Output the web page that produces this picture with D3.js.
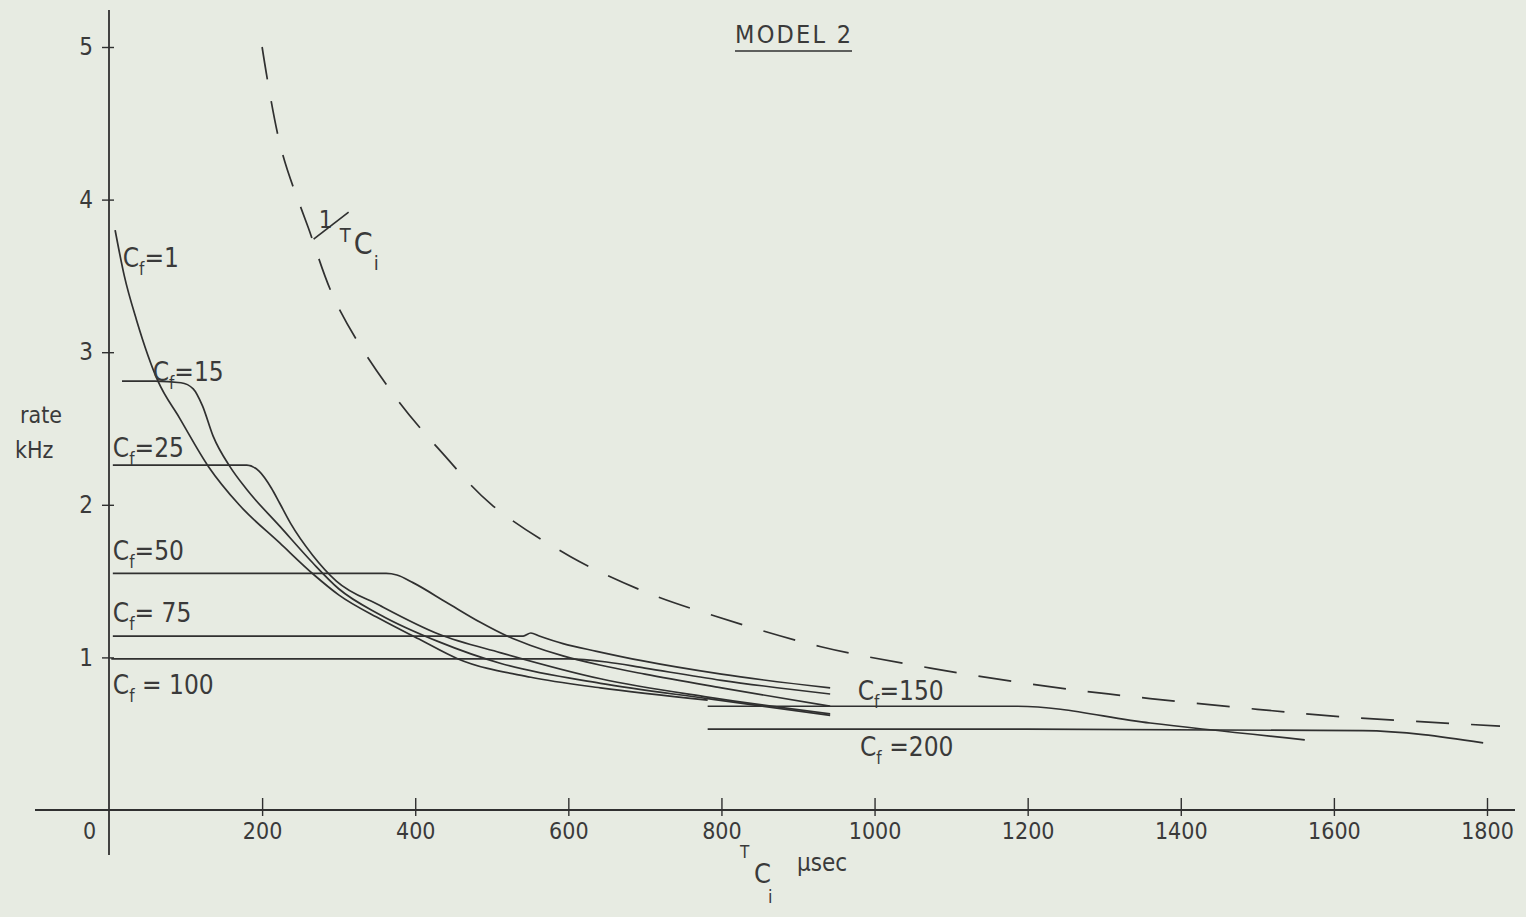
<!DOCTYPE html>
<html>
<head>
<meta charset="utf-8">
<script src="https://cdn.jsdelivr.net/npm/d3@7"></script>
<style>
  html, body { margin: 0; padding: 0; background: #e7ebe2; }
  svg { display: block; }
  text { font-family: "DejaVu Sans Condensed", "DejaVu Sans", sans-serif; fill: #3a3a3a; }
</style>
</head>
<body>
<svg id="chart"></svg>
<script>
// tick values (T_Ci in usec, rate in kHz)
const xTickValues = [0, 200, 400, 600, 800, 1000, 1200, 1400, 1600, 1800];
const yTickValues = [1, 2, 3, 4, 5];

// curves: [T_Ci usec, rate kHz]
const cf1 = [[8,3.80],[20,3.50],[36,3.21],[64,2.81],[92,2.57],[130,2.25],[170,2.00],[223,1.75],[268,1.54],[300,1.41],[355,1.25],[405,1.12],[456,0.99],[551,0.87],[642,0.80],[782,0.72]];
const cf15 = [[17,2.81],[60,2.81],[94,2.80],[110,2.76],[122,2.65],[136,2.45],[158,2.25],[180,2.10],[223,1.86],[266,1.62],[300,1.45],[354,1.28],[432,1.10],[512,0.96],[642,0.83],[782,0.73],[942,0.62]];
const cf25 = [[5,2.26],[100,2.26],[180,2.26],[196,2.22],[212,2.11],[223,2.01],[237,1.88],[266,1.67],[297,1.50],[354,1.34],[432,1.15],[512,1.03],[642,0.86],[782,0.74],[942,0.63]];
const cf50 = [[5,1.55],[200,1.55],[362,1.55],[376,1.54],[397,1.49],[441,1.36],[485,1.23],[520,1.14],[550,1.08],[593,1.01],[641,0.95],[700,0.89],[800,0.80],[942,0.68]];
const cf75 = [[5,1.14],[300,1.14],[541,1.14],[551,1.16],[562,1.14],[593,1.09],[637,1.04],[694,0.98],[800,0.89],[942,0.80]];
const cf100 = [[3,0.99],[300,0.99],[600,0.99],[650,0.97],[700,0.93],[800,0.85],[942,0.76]];
const cf150 = [[782,0.68],[1000,0.68],[1187,0.68],[1360,0.57],[1562,0.46]];
const cf200 = [[782,0.53],[1200,0.53],[1638,0.52],[1795,0.44]];
const inverseTc = [[200,5.00],[225,4.33],[260,3.82],[299,3.30],[372,2.72],[437,2.33],[500,2.00],[603,1.66],[700,1.43],[786,1.28],[930,1.07],[1073,0.93],[1226,0.81],[1360,0.73],[1500,0.66],[1612,0.61],[1817,0.55]];

const seriesData = [cf1, cf15, cf25, cf50, cf75, cf100, cf150, cf200];

// label anchors (data coords) and the text after "C_f"
const curveLabels = [
  {text: '=1',     x: 18,  y: 3.56},
  {text: '=15',    x: 57,  y: 2.81},
  {text: '=25',    x: 5,   y: 2.31},
  {text: '=50',    x: 5,   y: 1.64},
  {text: '= 75',   x: 5,   y: 1.23},
  {text: ' = 100', x: 5,   y: 0.76},
  {text: '=150',   x: 978, y: 0.72},
  {text: ' =200',  x: 981, y: 0.355}
];

const width = 1526, height = 917;
const ink = '#303030';
const font = '"DejaVu Sans Condensed", "DejaVu Sans", sans-serif';

const svg = d3.select('#chart')
    .attr('width', width)
    .attr('height', height);

svg.append('rect')
    .attr('width', width).attr('height', height)
    .attr('fill', '#e7ebe2');

const x = d3.scaleLinear().domain([0, 1800]).range([109, 1487]);
const y = d3.scaleLinear().domain([0, 5]).range([810, 47]);

// axis lines, drawn longer than the domain like the original
svg.append('line')
    .attr('x1', x(0)).attr('x2', x(0))
    .attr('y1', y(5) - 37).attr('y2', y(0) + 45)
    .attr('stroke', ink).attr('stroke-width', 1.8);
svg.append('line')
    .attr('x1', x(0) - 74).attr('x2', x(1800) + 28)
    .attr('y1', y(0)).attr('y2', y(0))
    .attr('stroke', ink).attr('stroke-width', 1.8);

// x axis ticks + labels
const xAxis = d3.axisBottom(x)
    .tickValues(xTickValues)
    .tickSizeInner(6)
    .tickSizeOuter(0)
    .tickPadding(7)
    .tickFormat(d3.format('d'));

const xAxisG = svg.append('g')
    .attr('transform', `translate(0,${y(0)})`)
    .call(xAxis);
xAxisG.select('.domain').remove();
xAxisG.selectAll('.tick line')
    .attr('y1', -12)
    .attr('stroke', ink).attr('stroke-width', 1.4)
    .filter(d => d === 0).remove();
xAxisG.selectAll('.tick text')
    .attr('font-size', 23)
    .attr('font-family', font)
    .attr('fill', '#3a3a3a')
    .filter(d => d === 0)
    .attr('x', -20);

// y axis ticks + labels
const yAxis = d3.axisLeft(y)
    .tickValues(yTickValues)
    .tickSizeInner(7)
    .tickSizeOuter(0)
    .tickPadding(9)
    .tickFormat(d3.format('d'));

const yAxisG = svg.append('g')
    .attr('transform', `translate(${x(0)},0)`)
    .call(yAxis);
yAxisG.select('.domain').remove();
yAxisG.selectAll('.tick line')
    .attr('x1', 5)
    .attr('stroke', ink).attr('stroke-width', 1.4);
yAxisG.selectAll('.tick text')
    .attr('font-size', 24)
    .attr('font-family', font)
    .attr('fill', '#3a3a3a');

// curves
const line = d3.line()
    .x(d => x(d[0]))
    .y(d => y(d[1]))
    .curve(d3.curveMonotoneX);

svg.append('g')
  .selectAll('path')
  .data(seriesData)
  .join('path')
    .attr('d', line)
    .attr('fill', 'none')
    .attr('stroke', ink)
    .attr('stroke-width', 1.7)
    .attr('stroke-linejoin', 'round');

svg.append('path')
    .datum(inverseTc)
    .attr('d', line.curve(d3.curveCatmullRom))
    .attr('fill', 'none')
    .attr('stroke', ink)
    .attr('stroke-width', 1.7)
    .attr('stroke-dasharray', '33,22');

// C_f labels
const lbl = svg.append('g')
  .selectAll('text')
  .data(curveLabels)
  .join('text')
    .attr('x', d => x(d.x))
    .attr('y', d => y(d.y))
    .attr('font-size', 26)
    .attr('xml:space', 'preserve');
lbl.append('tspan').text('C');
lbl.append('tspan').attr('font-size', 17).attr('dy', 8).text('f');
lbl.append('tspan').attr('dy', -8).text(d => d.text);

// 1/T_Ci label next to the dashed curve
const ax = x(266), ay = y(3.82);
svg.append('text').attr('x', ax + 6).attr('y', ay + 1).attr('font-size', 24).text('1');
svg.append('line')
    .attr('x1', ax + 1).attr('y1', ay + 12)
    .attr('x2', ax + 36).attr('y2', ay - 15)
    .attr('stroke', ink).attr('stroke-width', 1.7);
svg.append('text').attr('x', ax + 27).attr('y', ay + 15).attr('font-size', 20).text('T');
svg.append('text').attr('x', ax + 41).attr('y', ay + 27).attr('font-size', 30).text('C');
svg.append('text').attr('x', ax + 61).attr('y', ay + 43).attr('font-size', 20).text('i');

// title
svg.append('text')
    .attr('x', 735).attr('y', 43)
    .attr('font-size', 25)
    .attr('textLength', 116)
    .attr('lengthAdjust', 'spacing')
    .text('MODEL 2');
svg.append('line')
    .attr('x1', 735).attr('x2', 852)
    .attr('y1', 51).attr('y2', 51)
    .attr('stroke', ink).attr('stroke-width', 1.7);

// y axis title
svg.append('text').attr('x', 20).attr('y', 423).attr('font-size', 23).text('rate');
svg.append('text').attr('x', 15).attr('y', 458).attr('font-size', 23).text('kHz');

// x axis title
svg.append('text').attr('x', 740).attr('y', 858).attr('font-size', 17).text('T');
svg.append('text').attr('x', 754).attr('y', 883).attr('font-size', 27).text('C');
svg.append('text').attr('x', 768).attr('y', 903).attr('font-size', 18).text('i');
svg.append('text').attr('x', 797).attr('y', 871).attr('font-size', 24).text('µsec');
</script>
</body>
</html>
